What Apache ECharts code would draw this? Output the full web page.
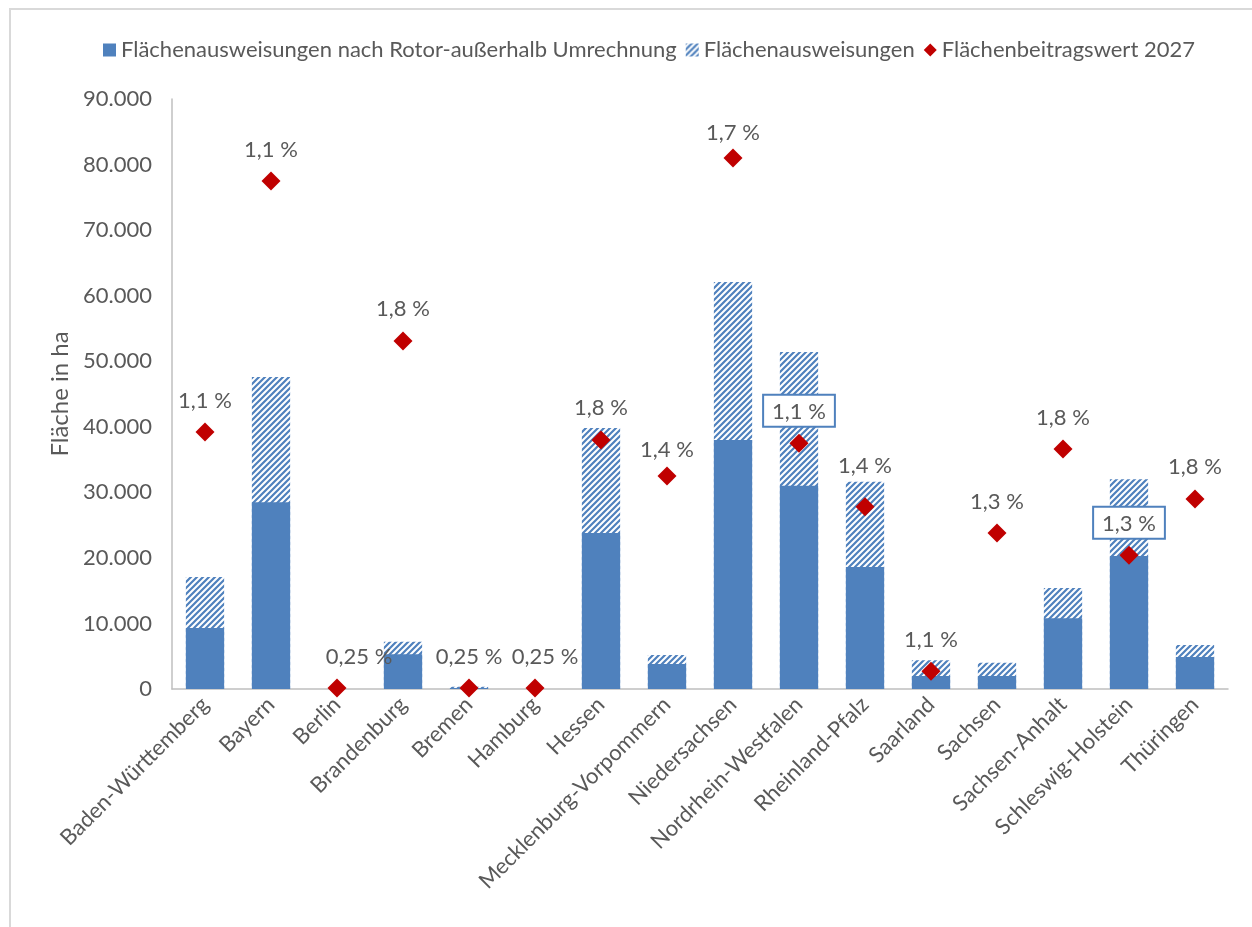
<!DOCTYPE html>
<html>
<head>
<meta charset="utf-8">
<script src="https://cdn.jsdelivr.net/npm/echarts@6/dist/echarts.min.js"></script>
<style>
	html, body { margin: 0; padding: 0; background: #fff; }
	#chart { width: 1252px; height: 927px; }
</style>
</head>
<body>
<div id="chart"></div>
<script>
// Bundesländer
var states = ["Baden-Württemberg", "Bayern", "Berlin", "Brandenburg", "Bremen", "Hamburg", "Hessen",
	"Mecklenburg-Vorpommern", "Niedersachsen", "Nordrhein-Westfalen", "Rheinland-Pfalz", "Saarland",
	"Sachsen", "Sachsen-Anhalt", "Schleswig-Holstein", "Thüringen"];

// Flächenausweisungen nach Rotor-außerhalb Umrechnung (ha)
var rotorArea = [9300, 28500, 0, 5300, 150, 0, 23800, 3800, 38000, 31000, 18600, 2000, 2000, 10800, 20300, 4900];
// Flächenausweisungen gesamt (ha)
var totalArea = [17100, 47600, 0, 7200, 350, 0, 39800, 5200, 62100, 51400, 31600, 4400, 4000, 15400, 32000, 6700];
// Flächenbeitragswert 2027 (ha)
var target2027 = [39200, 77500, 150, 53100, 150, 150, 38000, 32500, 81000, 37500, 27800, 2700, 23800, 36600, 20400, 29000];
var targetPct = ["1,1 %", "1,1 %", "0,25 %", "1,8 %", "0,25 %", "0,25 %", "1,8 %", "1,4 %", "1,7 %", "1,1 %",
	"1,4 %", "1,1 %", "1,3 %", "1,8 %", "1,3 %", "1,8 %"];

var yTicks = [0, 10000, 20000, 30000, 40000, 50000, 60000, 70000, 80000, 90000];

var BLUE = "#4f81bd";
var RED = "#c00000";
var TXT = "#595959";
var FONT = "Lato, 'Open Sans', sans-serif";

// hatch pattern "////"
function makeHatch() {
	var c = document.createElement("canvas");
	c.width = 6;
	c.height = 6;
	var ctx = c.getContext("2d");
	ctx.fillStyle = "#ffffff";
	ctx.fillRect(0, 0, 6, 6);
	ctx.strokeStyle = BLUE;
	ctx.lineWidth = 2.2;
	ctx.beginPath();
	ctx.moveTo(-1, 7); ctx.lineTo(7, -1);
	ctx.moveTo(-4, 4); ctx.lineTo(4, -4);
	ctx.moveTo(2, 10); ctx.lineTo(10, 2);
	ctx.stroke();
	return c;
}
var hatch = { image: makeHatch(), repeat: "repeat" };

function fmt(v) {
	return String(v).replace(/\B(?=(\d{3})+(?!\d))/g, ".");
}

// label tweaks
var boxed = { 9: true, 14: true };
var shift = { 2: [22, 0], 5: [10, 0], 8: [0, 6], 7: [0, 5], 10: [0, -9] };

var targetData = target2027.map(function (v, i) {
	var d = { value: v, label: { formatter: targetPct[i] } };
	if (boxed[i]) {
		d.label.borderColor = BLUE;
		d.label.borderWidth = 2;
		d.label.backgroundColor = "#ffffff";
		d.label.padding = [5, 8, 3, 8];
		d.label.distance = 8;
	}
	if (shift[i]) {
		d.label.offset = shift[i];
	}
	return d;
});

var chart = echarts.init(document.getElementById("chart"));
chart.setOption({
	animation: false,
	textStyle: { fontFamily: FONT },
	graphic: [{
		type: "rect",
		shape: { x: 10, y: 9, width: 1300, height: 1000 },
		style: { fill: "none", stroke: "#d9d9d9", lineWidth: 2 },
		silent: true
	}],
	legend: {
		top: 34,
		left: 98,
		itemGap: 9,
		itemWidth: 13,
		itemHeight: 13,
		textStyle: { color: TXT, fontSize: 22, fontFamily: FONT },
		data: [
			{ name: "Flächenausweisungen nach Rotor-außerhalb Umrechnung", icon: "rect" },
			{ name: "Flächenausweisungen", icon: "rect" },
			{ name: "Flächenbeitragswert 2027", icon: "diamond" }
		]
	},
	grid: {
		top: 99,
		left: 172,
		right: 24,
		bottom: 238
	},
	xAxis: {
		type: "category",
		data: states,
		axisLine: { lineStyle: { color: "#bfbfbf", width: 1.5 } },
		axisTick: { show: false },
		axisLabel: {
			rotate: 45,
			interval: 0,
			color: TXT,
			fontSize: 22,
			margin: 12,
			fontFamily: FONT
		}
	},
	yAxis: {
		type: "value",
		min: 0,
		max: 90000,
		interval: 10000,
		name: "Fläche in ha",
		nameLocation: "middle",
		nameGap: 100,
		nameTextStyle: { color: TXT, fontSize: 24, fontFamily: FONT },
		axisLine: { show: true, lineStyle: { color: "#bfbfbf", width: 1.5 } },
		axisTick: { show: false },
		splitLine: { show: false },
		axisLabel: {
			color: TXT,
			fontSize: 22,
			margin: 20,
			fontFamily: FONT,
			formatter: function (v) { return yTicks.indexOf(v) >= 0 ? fmt(v) : ""; }
		}
	},
	series: [
		{
			name: "Flächenausweisungen nach Rotor-außerhalb Umrechnung",
			type: "bar",
			barWidth: "58%",
			barGap: "-100%",
			z: 3,
			itemStyle: { color: BLUE },
			data: rotorArea
		},
		{
			name: "Flächenausweisungen",
			type: "bar",
			barWidth: "58%",
			barGap: "-100%",
			z: 2,
			itemStyle: { color: hatch },
			data: totalArea
		},
		{
			name: "Flächenbeitragswert 2027",
			type: "scatter",
			symbol: "diamond",
			symbolSize: 19,
			z: 10,
			itemStyle: { color: RED, opacity: 1 },
			label: {
				show: true,
				position: "top",
				distance: 11,
				color: TXT,
				opacity: 1,
				fontSize: 22,
				fontFamily: FONT
			},
			data: targetData
		}
	]
});
</script>
</body>
</html>
